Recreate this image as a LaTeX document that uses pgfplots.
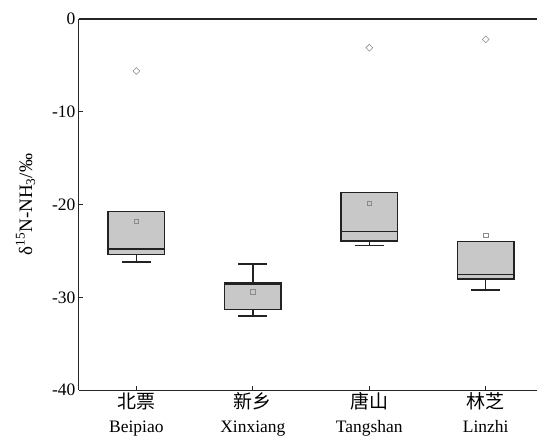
\documentclass[border=0pt]{standalone}
\usepackage{fontspec}
\setmainfont{Liberation Serif}
\newfontfamily\cjk{Noto Sans CJK SC}
\usepackage{pgfplots}
\pgfplotsset{compat=1.18}
\definecolor{boxfill}{HTML}{C8C8C8}
\definecolor{boxedge}{HTML}{222222}
\definecolor{markgray}{HTML}{8A8A8A}
\pgfplotsset{
  boxrect/.style={fill=boxfill, draw=boxedge, line width=1.4pt, line join=miter},
  boxline/.style={draw=boxedge, line width=1.4pt},
}
\begin{document}
\begin{tikzpicture}
\begin{axis}[
  scale only axis,
  width=459bp, height=372bp,
  xmin=0.506, xmax=4.44,
  ymin=-40, ymax=0,
  axis x line=box, axis y line=left,
  y axis line style={-},
  axis line style={line width=1.2pt, black!85},
  tick pos=left,
  tick align=inside,
  major tick length=4bp,
  tick style={line width=1.1pt, black!85},
  xtick={1,2,3,4},
  xticklabels={{{\cjk\fontsize{19bp}{24bp}\selectfont 北票}\\Beipiao},{{\cjk\fontsize{19bp}{24bp}\selectfont 新乡}\\Xinxiang},{{\cjk\fontsize{19bp}{24bp}\selectfont 唐山}\\Tangshan},{{\cjk\fontsize{19bp}{24bp}\selectfont 林芝}\\Linzhi}},
  xticklabel style={align=center, font=\fontsize{17.5bp}{24bp}\selectfont, yshift=1bp},
  ytick={-40,-30,-20,-10,0},
  yticklabel style={font=\fontsize{17.5bp}{20bp}\selectfont},
  /pgf/number format/assume math mode=true,
  ylabel={δ\textsuperscript{15}N-NH\textsubscript{3}/‰},
  ylabel style={font=\fontsize{19bp}{20bp}\selectfont, yshift=10bp},
  clip=false,
]
% ---- Beipiao (x=1): lw=-26.2, q1=-25.4, med=-24.77, q3=-20.76
\addplot[boxrect] coordinates {(0.7575,-25.4) (1.2425,-25.4) (1.2425,-20.76) (0.7575,-20.76)} -- cycle;
\addplot[boxline] coordinates {(0.7575,-24.77) (1.2425,-24.77)};
\addplot[boxline] coordinates {(1,-25.4) (1,-26.2)};
\addplot[boxline] coordinates {(0.875,-26.2) (1.125,-26.2)};
% ---- Xinxiang (x=2): lw=-32.0, q1=-31.3, med=-28.55, q3=-28.4, uw=-26.4
\addplot[boxrect] coordinates {(1.7575,-31.3) (2.2425,-31.3) (2.2425,-28.4) (1.7575,-28.4)} -- cycle;
\addplot[boxline] coordinates {(1.7575,-28.55) (2.2425,-28.55)};
\addplot[boxline] coordinates {(2,-31.3) (2,-32.0)};
\addplot[boxline] coordinates {(1.875,-32.0) (2.125,-32.0)};
\addplot[boxline] coordinates {(2,-28.4) (2,-26.4)};
\addplot[boxline] coordinates {(1.875,-26.4) (2.125,-26.4)};
% ---- Tangshan (x=3): lw=-24.4, q1=-23.9, med=-22.9, q3=-18.7
\addplot[boxrect] coordinates {(2.7575,-23.9) (3.2425,-23.9) (3.2425,-18.7) (2.7575,-18.7)} -- cycle;
\addplot[boxline] coordinates {(2.7575,-22.9) (3.2425,-22.9)};
\addplot[boxline] coordinates {(3,-23.9) (3,-24.4)};
\addplot[boxline] coordinates {(2.875,-24.4) (3.125,-24.4)};
% ---- Linzhi (x=4): lw=-29.2, q1=-28.0, med=-27.5, q3=-23.95
\addplot[boxrect] coordinates {(3.7575,-28.0) (4.2425,-28.0) (4.2425,-23.95) (3.7575,-23.95)} -- cycle;
\addplot[boxline] coordinates {(3.7575,-27.5) (4.2425,-27.5)};
\addplot[boxline] coordinates {(4,-28.0) (4,-29.2)};
\addplot[boxline] coordinates {(3.875,-29.2) (4.125,-29.2)};
% means
\addplot[only marks, mark=square, mark size=2.3bp, mark options={draw=markgray, line width=0.6pt, fill=none}]
  coordinates {(1,-21.8) (2,-29.4) (3,-19.85) (4,-23.3)};
% outliers
\addplot[only marks, mark=square, mark size=2.4bp, mark options={rotate=45, draw=markgray, line width=0.6pt, fill=none}]
  coordinates {(1,-5.6) (3,-3.1) (4,-2.2)};
\end{axis}
\pgfresetboundingbox
\path ([shift={(-79bp,-52bp)}]current axis.south west) rectangle ([shift={(0bp,19bp)}]current axis.north east);
\end{tikzpicture}
\end{document}
